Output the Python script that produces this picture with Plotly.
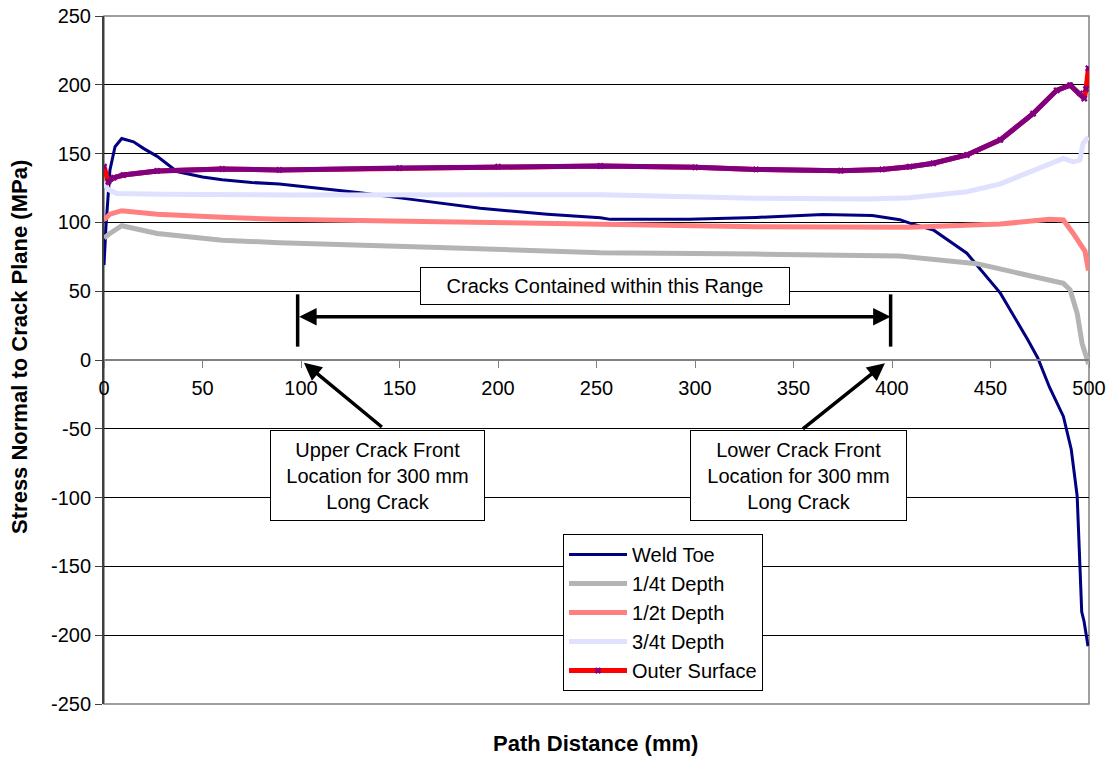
import plotly.graph_objects as go

# ---------------- data ----------------
weld_x = [0, 1, 3, 5.6, 9, 15, 20, 27, 37, 50, 60, 75, 89, 110, 130, 160, 191, 225, 252, 257,
          297, 331, 365, 390, 404, 409, 421, 438, 455, 469, 474, 480, 487, 491, 494, 495.4,
          496.3, 497.5, 499.5]
weld_y = [69, 97, 138, 155, 161, 158.6, 153.8, 148, 137, 133, 131, 129, 127.9, 124.8, 121.5, 116,
          110.2, 106, 103.4, 102.2, 102.2, 103.6, 105.8, 105, 102, 99.5, 94.5, 77.6, 48.6, 14.5,
          1.5, -20, -41, -65, -99, -150, -183, -190, -208]

q1_x = [0, 3, 9, 27, 60, 89, 170, 252, 331, 378, 404, 443, 472, 487, 490.4, 494, 496.5, 499.8]
q1_y = [88.6, 92, 97.6, 92, 87, 85.3, 81.8, 78, 77, 76.3, 75.5, 70, 60.5, 55.7, 51, 34, 12, -3]

q2_x = [0, 3, 9, 27, 60, 89, 170, 252, 331, 409, 455, 480, 487, 492, 496.3, 498, 499.7]
q2_y = [101.7, 106, 108.5, 106, 103.7, 102.2, 100.5, 98.6, 96.9, 96.4, 98.8, 102.2, 101.7, 92,
        82, 79, 65]

q3_x = [0, 2, 6.4, 30, 94, 252, 331, 388, 409, 438, 455, 471.6, 487, 492, 495.4, 497, 499.7]
q3_y = [129.6, 124, 121, 120.4, 120, 120.1, 117.5, 117, 118, 122.3, 128, 138, 146.5, 144, 145.3,
        157.6, 162]

out_x = [0, 2.2, 5, 9.8, 27, 60, 89, 150, 200, 252, 300, 331, 374, 395, 409, 421, 438, 455,
         471.6, 483.6, 490.4, 495.4, 497.6, 498.5, 499.7]
out_y = [140.5, 129.6, 132.5, 134.4, 137.4, 138.8, 138.1, 139.5, 140.5, 141, 140, 138.5, 137.6,
         138.5, 140.5, 143, 149, 160, 179, 196, 199.8, 193.8, 190, 197, 212]

series_names = ["Weld Toe", "1/4t Depth", "1/2t Depth", "3/4t Depth", "Outer Surface"]

x_ticks = [0, 50, 100, 150, 200, 250, 300, 350, 400, 450, 500]
y_ticks = [-250, -200, -150, -100, -50, 0, 50, 100, 150, 200, 250]
x_ticktext = [str(v) for v in x_ticks]
y_ticktext = [str(v) for v in y_ticks]  # plain hyphen-minus as in the reference

# crack range marker positions (annotation geometry)
range_x = [98.3, 399.3]
range_y = 31.5
bar_y = [9.7, 47.7]

FONT = "Liberation Sans, Arial, sans-serif"

fig = go.Figure()
fig.add_trace(go.Scatter(x=weld_x, y=weld_y, mode="lines", name=series_names[0],
                         line=dict(color="#000080", width=3)))
fig.add_trace(go.Scatter(x=q1_x, y=q1_y, mode="lines", name=series_names[1],
                         line=dict(color="#B4B4B4", width=5)))
fig.add_trace(go.Scatter(x=q2_x, y=q2_y, mode="lines", name=series_names[2],
                         line=dict(color="#FF8080", width=5)))
fig.add_trace(go.Scatter(x=q3_x, y=q3_y, mode="lines", name=series_names[3],
                         line=dict(color="#E0E0FF", width=5)))
fig.add_trace(go.Scatter(x=out_x, y=out_y, mode="lines+markers", name=series_names[4],
                         line=dict(color="#FF0000", width=5),
                         marker=dict(color="#800080", symbol="x", size=6, line=dict(width=0))))
fig.add_trace(go.Scatter(x=out_x[1:-2], y=out_y[1:-2], mode="lines", showlegend=False,
                         line=dict(color="#800080", width=5)))

# crack range bars
for bx in range_x:
    fig.add_shape(type="line", xref="x", yref="y", x0=bx, x1=bx, y0=bar_y[0], y1=bar_y[1],
                  line=dict(color="black", width=3.5))

# double headed arrow
fig.add_annotation(x=range_x[1], y=range_y, ax=range_x[0], ay=range_y, axref="x", ayref="y",
                   xref="x", yref="y", text="", showarrow=True, arrowhead=2, arrowsize=1,
                   arrowwidth=3.5, arrowcolor="black", arrowside="end+start",
                   startarrowhead=2, startarrowsize=1)

# text boxes
box_font = dict(family=FONT, size=20, color="black")
fig.add_annotation(x=254.3, y=53.8, xref="x", yref="y", text="Cracks Contained within this Range",
                   showarrow=False, bgcolor="white", bordercolor="black", borderwidth=1,
                   borderpad=0, width=368, height=36, font=box_font)
fig.add_annotation(x=138.8, y=-83.9, xref="x", yref="y",
                   text="Upper Crack Front<br>Location for 300 mm<br>Long Crack",
                   showarrow=False, bgcolor="white", bordercolor="black", borderwidth=1,
                   borderpad=0, width=213, height=89, font=box_font)
fig.add_annotation(x=352.3, y=-83.9, xref="x", yref="y",
                   text="Lower Crack Front<br>Location for 300 mm<br>Long Crack",
                   showarrow=False, bgcolor="white", bordercolor="black", borderwidth=1,
                   borderpad=0, width=215, height=89, font=box_font)

# pointer arrows
fig.add_annotation(x=101.5, y=-2, ax=141.8, ay=-49.6, axref="x", ayref="y", xref="x", yref="y",
                   text="", showarrow=True, arrowhead=2, arrowsize=1, arrowwidth=3.5,
                   arrowcolor="black")
fig.add_annotation(x=396.4, y=-2.4, ax=354, ay=-50.9, axref="x", ayref="y", xref="x", yref="y",
                   text="", showarrow=True, arrowhead=2, arrowsize=1, arrowwidth=3.5,
                   arrowcolor="black")

# axis titles
fig.add_annotation(xref="paper", yref="paper", x=0.4985, y=-0.0567, xanchor="center",
                   yanchor="middle", text="<b>Path Distance (mm)</b>", showarrow=False,
                   font=dict(family=FONT, size=22, color="black"))
fig.add_annotation(xref="paper", yref="paper", x=-0.0853, y=0.519, xanchor="center",
                   yanchor="middle", text="<b>Stress Normal to Crack Plane (MPa)</b>",
                   textangle=-90, showarrow=False,
                   font=dict(family=FONT, size=22, color="black"))

# plot frame
fig.add_shape(type="rect", xref="paper", yref="paper", x0=0, x1=1, y0=0, y1=1,
              line=dict(color="#808080", width=1.5), layer="below")

fig.update_layout(
    width=1109, height=759,
    margin=dict(l=104, r=20, t=16, b=55, autoexpand=False),
    paper_bgcolor="white", plot_bgcolor="white",
    font=dict(family=FONT, size=20, color="black"),
    showlegend=True,
    legend=dict(x=0.466, y=0.247, xanchor="left", yanchor="top", bgcolor="white",
                bordercolor="black", borderwidth=1, font=dict(family=FONT, size=20),
                itemwidth=58, tracegroupgap=0),
    xaxis=dict(range=[0, 500], tickvals=x_ticks, ticktext=x_ticktext, anchor="free",
               position=0.5, automargin=False,
               showgrid=False, zeroline=False, showline=True, linecolor="#808080",
               linewidth=1.5, ticks="outside", ticklen=7, tickcolor="#808080",
               tickfont=dict(family=FONT, size=20, color="black"), ticklabelstandoff=3),
    yaxis=dict(range=[-250, 250], tickvals=y_ticks, ticktext=y_ticktext, automargin=False,
               showgrid=True, gridcolor="black",
               gridwidth=1, zeroline=False, showline=True, linecolor="#404040", linewidth=2,
               ticks="outside", ticklen=7, tickcolor="#404040",
               tickfont=dict(family=FONT, size=20, color="black")),
)

fig.write_html("out.html")
